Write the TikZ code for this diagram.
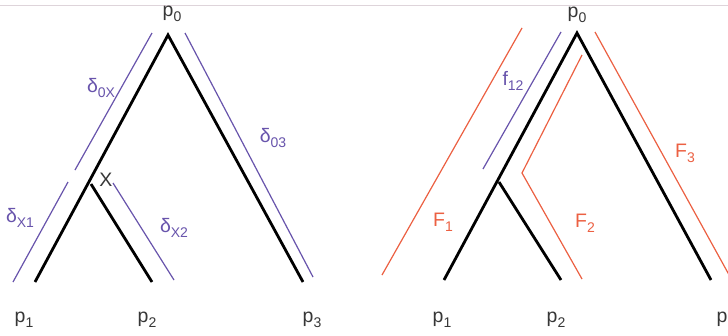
\documentclass[tikz,border=0pt]{standalone}
\usepackage{fontspec}
\setmainfont{Liberation Sans}
\definecolor{purp}{RGB}{104,84,172}
\definecolor{redl}{RGB}{236,96,66}
\definecolor{txt}{RGB}{55,55,55}
\definecolor{topl}{RGB}{222,212,218}
\newcommand\sbs[1]{\raisebox{-0.5ex}{\fontsize{14}{14}\selectfont #1}}
\tikzset{
  edge/.style={line width=2.8pt, black},
  pline/.style={line width=1.2pt, purp},
  rline/.style={line width=1.2pt, redl},
  lab/.style={inner sep=0pt, font=\fontsize{19.5}{21}\selectfont, text=txt},
  plab/.style={inner sep=0pt, font=\fontsize{19.5}{21}\selectfont, text=purp},
  rlab/.style={inner sep=0pt, font=\fontsize{19.5}{21}\selectfont, text=redl},
}
\begin{document}
\begin{tikzpicture}[x=1pt,y=-1pt]
\useasboundingbox (0,0) rectangle (728,335);
\fill[white] (0,0) rectangle (728,335);
\coordinate (t1) at (0,5);
\coordinate (t2) at (728,5);
\draw[topl, line width=1pt] (t1) -- (t2);
% ---------- left tree ----------
\coordinate (L0) at (168,35);
\coordinate (LX) at (91,184);
\coordinate (L1) at (35,282);
\coordinate (L2) at (152,282);
\coordinate (L3) at (303,282);
\draw[edge] (L1) -- (L0) -- (L3);
\draw[edge] (LX) -- (L2);
\coordinate (a1) at (152,33);  \coordinate (a2) at (75,170);
\coordinate (b1) at (68,182);  \coordinate (b2) at (13,282);
\coordinate (c1) at (113,183); \coordinate (c2) at (174,280);
\coordinate (d1) at (185,33);  \coordinate (d2) at (313,277);
\draw[pline] (a1) -- (a2);
\draw[pline] (b1) -- (b2);
\draw[pline] (c1) -- (c2);
\draw[pline] (d1) -- (d2);
\node[lab] (lp0) at (172,14) {p\sbs{0}};
\node[lab] (lp1) at (24,320) {p\sbs{1}};
\node[lab] (lp2) at (147,320) {p\sbs{2}};
\node[lab] (lp3) at (312,320) {p\sbs{3}};
\node[lab] (lx) at (106,180) {X};
\node[plab] (d0x) at (101,88) {δ\sbs{0X}};
\node[plab] (d03) at (273,138) {δ\sbs{03}};
\node[plab] (dx1) at (20,218) {δ\sbs{X1}};
\node[plab] (dx2) at (174,228) {δ\sbs{X2}};
% ---------- right tree ----------
\coordinate (R0) at (577,33);
\coordinate (RX) at (499,182);
\coordinate (R1) at (444,280);
\coordinate (R2) at (561,280);
\coordinate (R3) at (711,280);
\draw[edge] (R1) -- (R0) -- (R3);
\draw[edge] (RX) -- (R2);
\coordinate (e1) at (522,28);  \coordinate (e2) at (382,275);
\coordinate (g1) at (561,32);  \coordinate (g2) at (483,169);
\coordinate (h1) at (582,55);  \coordinate (h2) at (522,173); \coordinate (h3) at (582,279);
\coordinate (k1) at (595,32);  \coordinate (k2) at (733,282);
\draw[rline] (e1) -- (e2);
\draw[pline] (g1) -- (g2);
\draw[rline] (h1) -- (h2) -- (h3);
\draw[rline] (k1) -- (k2);
\node[lab] (rp0) at (577,15) {p\sbs{0}};
\node[lab] (rp1) at (442,320) {p\sbs{1}};
\node[lab] (rp2) at (556,320) {p\sbs{2}};
\node[lab] (rp3) at (726,320) {p\sbs{3}};
\node[plab] (f12) at (513,81) {f\sbs{12}};
\node[rlab] (F1) at (443,222) {F\sbs{1}};
\node[rlab] (F2) at (585,223) {F\sbs{2}};
\node[rlab] (F3) at (685,153) {F\sbs{3}};
\end{tikzpicture}
\end{document}
